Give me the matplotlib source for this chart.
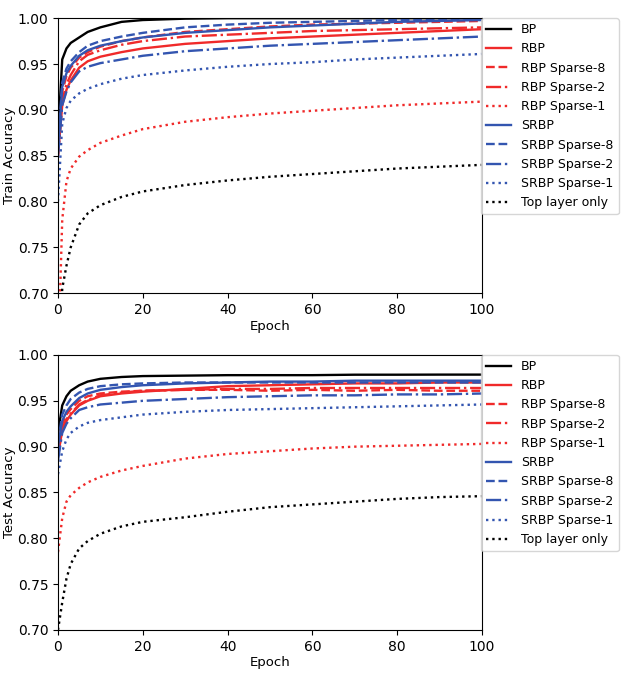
import numpy as np
from matplotlib import pyplot as plt

epochs = [0, 1, 2, 3, 5, 7, 10, 15, 20, 30, 40, 50, 60, 70, 80, 90, 100]

labels = ["BP", "RBP", "RBP Sparse-8", "RBP Sparse-2", "RBP Sparse-1",
          "SRBP", "SRBP Sparse-8", "SRBP Sparse-2", "SRBP Sparse-1", "Top layer only"]

# train accuracy
train_bp = [0.87, 0.955, 0.967, 0.973, 0.979, 0.985, 0.990, 0.996, 0.998, 0.9995, 1.0, 1.0, 1.0, 1.0, 1.0, 1.0, 1.0]
train_rbp = [0.85, 0.905, 0.922, 0.932, 0.946, 0.953, 0.958, 0.963, 0.967, 0.972, 0.975, 0.978, 0.980, 0.982, 0.984, 0.986, 0.988]
train_rbp_s8 = [0.86, 0.92, 0.937, 0.946, 0.957, 0.963, 0.969, 0.975, 0.979, 0.985, 0.988, 0.991, 0.993, 0.994, 0.995, 0.996, 0.997]
train_rbp_s2 = [0.85, 0.91, 0.928, 0.938, 0.953, 0.960, 0.965, 0.971, 0.975, 0.980, 0.982, 0.984, 0.986, 0.987, 0.988, 0.989, 0.990]
train_rbp_s1 = [0.62, 0.78, 0.822, 0.836, 0.849, 0.856, 0.864, 0.872, 0.879, 0.887, 0.892, 0.896, 0.899, 0.902, 0.905, 0.907, 0.909]
train_srbp = [0.86, 0.925, 0.94, 0.948, 0.959, 0.965, 0.970, 0.975, 0.979, 0.984, 0.987, 0.990, 0.992, 0.994, 0.996, 0.997, 0.998]
train_srbp_s8 = [0.86, 0.93, 0.945, 0.953, 0.963, 0.970, 0.975, 0.980, 0.984, 0.990, 0.993, 0.995, 0.996, 0.997, 0.998, 0.9985, 0.999]
train_srbp_s2 = [0.85, 0.905, 0.92, 0.93, 0.942, 0.947, 0.951, 0.955, 0.959, 0.964, 0.967, 0.970, 0.972, 0.974, 0.976, 0.978, 0.980]
train_srbp_s1 = [0.80, 0.885, 0.902, 0.91, 0.918, 0.923, 0.928, 0.934, 0.938, 0.943, 0.947, 0.950, 0.952, 0.955, 0.957, 0.959, 0.961]
train_top = [0.60, 0.705, 0.73, 0.75, 0.775, 0.787, 0.796, 0.805, 0.811, 0.818, 0.823, 0.827, 0.830, 0.833, 0.836, 0.838, 0.840]

# test accuracy
test_bp = [0.915, 0.945, 0.955, 0.961, 0.967, 0.971, 0.974, 0.976, 0.977, 0.9775, 0.978, 0.978, 0.978, 0.9785, 0.9785, 0.9786, 0.9786]
test_rbp = [0.89, 0.918, 0.928, 0.935, 0.945, 0.950, 0.955, 0.958, 0.960, 0.963, 0.966, 0.967, 0.968, 0.969, 0.969, 0.970, 0.970]
test_rbp_s8 = [0.895, 0.925, 0.935, 0.941, 0.950, 0.955, 0.958, 0.960, 0.961, 0.962, 0.962, 0.961, 0.962, 0.961, 0.962, 0.961, 0.961]
test_rbp_s2 = [0.89, 0.92, 0.93, 0.936, 0.946, 0.951, 0.956, 0.959, 0.961, 0.962, 0.963, 0.963, 0.964, 0.964, 0.964, 0.964, 0.964]
test_rbp_s1 = [0.785, 0.822, 0.84, 0.847, 0.855, 0.861, 0.867, 0.874, 0.879, 0.887, 0.892, 0.895, 0.898, 0.900, 0.901, 0.902, 0.903]
test_srbp = [0.90, 0.928, 0.938, 0.944, 0.953, 0.958, 0.962, 0.965, 0.967, 0.969, 0.970, 0.971, 0.971, 0.972, 0.972, 0.972, 0.972]
test_srbp_s8 = [0.905, 0.935, 0.945, 0.952, 0.959, 0.963, 0.966, 0.968, 0.969, 0.970, 0.970, 0.970, 0.970, 0.970, 0.970, 0.970, 0.970]
test_srbp_s2 = [0.885, 0.915, 0.925, 0.931, 0.940, 0.943, 0.946, 0.948, 0.950, 0.952, 0.954, 0.955, 0.956, 0.956, 0.957, 0.957, 0.958]
test_srbp_s1 = [0.87, 0.895, 0.908, 0.915, 0.922, 0.926, 0.929, 0.932, 0.935, 0.938, 0.940, 0.941, 0.942, 0.943, 0.944, 0.945, 0.946]
test_top = [0.70, 0.73, 0.756, 0.772, 0.789, 0.797, 0.805, 0.813, 0.818, 0.823, 0.829, 0.834, 0.837, 0.840, 0.843, 0.845, 0.846]

train = [train_bp, train_rbp, train_rbp_s8, train_rbp_s2, train_rbp_s1,
         train_srbp, train_srbp_s8, train_srbp_s2, train_srbp_s1, train_top]
test = [test_bp, test_rbp, test_rbp_s8, test_rbp_s2, test_rbp_s1,
        test_srbp, test_srbp_s8, test_srbp_s2, test_srbp_s1, test_top]

red = "#f02a2a"
blue = "#3355b0"
colors = ["black", red, red, red, red, blue, blue, blue, blue, "black"]
styles = ["-", "-", "--", "-.", ":", "-", "--", "-.", ":", ":"]

fig = plt.figure(figsize=(6.4, 6.74), dpi=100)
ax1 = fig.add_axes([0.0906, 0.565, 0.6625, 0.408])
ax2 = fig.add_axes([0.0906, 0.0653, 0.6625, 0.408])

for ax, data, ylab in [(ax1, train, "Train Accuracy"), (ax2, test, "Test Accuracy")]:
    for d, c, s, l in zip(data, colors, styles, labels):
        ax.plot(epochs, d, color=c, linestyle=s, linewidth=1.7, label=l)
    ax.set_xlim(0, 100)
    ax.set_ylim(0.70, 1.00)
    ax.set_yticks(np.arange(0.70, 1.001, 0.05))
    ax.set_xlabel("Epoch", fontsize=9.5, labelpad=2)
    ax.set_ylabel(ylab, fontsize=9.5, labelpad=1)
    ax.tick_params(labelsize=10)
    ax.legend(loc="upper left", bbox_to_anchor=(0.998, 1.0), borderaxespad=0, fontsize=9)

fig.savefig("out.png", dpi=100)
